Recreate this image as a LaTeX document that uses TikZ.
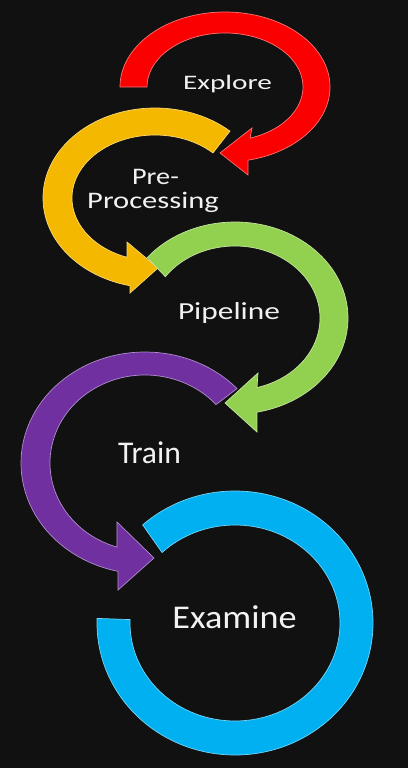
\documentclass[tikz,border=0pt]{standalone}
\usepackage{fontspec}
\setmainfont{Carlito}
\usepackage{graphicx}
\usetikzlibrary{calc}
\definecolor{BgDark}{RGB}{17,17,17}
\definecolor{ExpRed}{RGB}{250,0,0}
\definecolor{PreGold}{RGB}{245,184,0}
\definecolor{PipeGreen}{RGB}{146,208,80}
\definecolor{TrainPurple}{RGB}{112,48,160}
\definecolor{ExamCyan}{RGB}{0,176,240}
\definecolor{LabelWhite}{RGB}{242,242,242}
\tikzset{
  band/.style={fill=#1, draw=#1!55!white, line width=0.7pt, line join=miter},
  stagetext/.style={anchor=base, inner sep=0pt, text=LabelWhite}
}

\begin{document}
\begin{tikzpicture}[x=1pt, y=1pt]
  \useasboundingbox (0,0) rectangle (408,-768);
  \fill[BgDark] (0,0) rectangle (408,-768);

  % Explore
  \coordinate (redc) at (225,-87);
  \filldraw[band=ExpRed] ($(redc)+(180:105 and 75)$)
    arc[start angle=180, end angle=-77.3, x radius=105, y radius=75]
    -- (248,-175) -- (220,-153) -- (252,-128)
    -- ($(redc)+(-71.3:78 and 54)$)
    arc[start angle=-71.3, end angle=180, x radius=78, y radius=54] -- cycle;

  % Pre-Processing
  \coordinate (goldc) at (155,-198);
  \filldraw[band=PreGold] ($(goldc)+(48:112 and 90)$)
    arc[start angle=48, end angle=257.1, x radius=112, y radius=90]
    -- (130,-293) -- (158,-268) -- (127,-242)
    -- ($(goldc)+(250.3:83 and 63)$)
    arc[start angle=250.3, end angle=45.7, x radius=83, y radius=63] -- cycle;

  % Pipeline
  \coordinate (greenc) at (235,-318);
  \filldraw[band=PipeGreen] ($(greenc)+(141:113 and 96)$)
    arc[start angle=141, end angle=-78.8, x radius=113, y radius=96]
    -- (257,-432) -- (225,-403) -- (258,-373)
    -- ($(greenc)+(-75:85 and 72)$)
    arc[start angle=-75, end angle=145, x radius=85, y radius=72] -- cycle;

  % Train
  \coordinate (purplec) at (145,-463);
  \filldraw[band=TrainPurple] ($(purplec)+(42.1:124 and 111)$)
    arc[start angle=42.1, end angle=257.4, x radius=124, y radius=111]
    -- (118,-590) -- (154,-558) -- (117,-522)
    -- ($(purplec)+(252.8:95 and 88)$)
    arc[start angle=252.8, end angle=41.6, x radius=95, y radius=88] -- cycle;

  % Examine
  \coordinate (cyanc) at (235,-623);
  \filldraw[band=ExamCyan] ($(cyanc)+(132:138 and 132)$)
    arc[start angle=132, end angle=-182, x radius=138, y radius=132]
    -- ($(cyanc)+(-182:105 and 98)$)
    arc[start angle=-182, end angle=134, x radius=105, y radius=98] -- cycle;

  % labels
  \foreach \name/\txt/\x/\y/\fs/\sx in {
    explore/Explore/227.5/89/20.6/1.42,
    pre/Pre-/155.5/184/23.7/1.19,
    proc/Processing/153/208/23.7/1.29,
    pipe/Pipeline/229/319/24.5/1.28,
    train/Train/149.5/463/31.6/1.0,
    exam/Examine/234.5/628/33.2/1.09} {
    \node[stagetext, font=\fontsize{\fs}{\fs}\selectfont] (\name) at (\x,-\y) {\scalebox{\sx}[1]{\txt}};
  }
\end{tikzpicture}
\end{document}
